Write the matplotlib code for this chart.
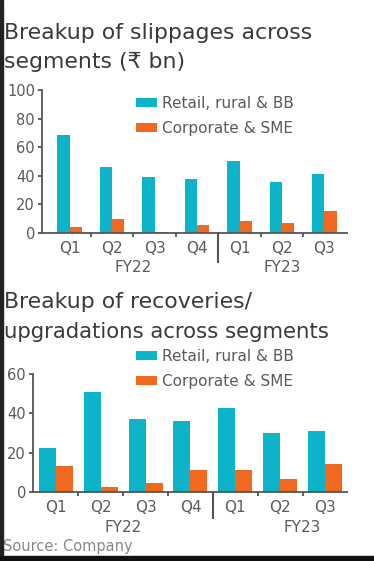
import matplotlib
matplotlib.use('Agg')
import matplotlib.pyplot as plt
import matplotlib.transforms as mtransforms
from matplotlib.patches import Rectangle
import numpy as np

plt.rcParams['font.family'] = ['DejaVu Sans']

quarters_top = ['Q1', 'Q2', 'Q3', 'Q4', 'Q1', 'Q2', 'Q3']
slip_retail = [68.5, 46, 39, 37.5, 50.5, 36, 41.5]
slip_corp = [4, 10, 1, 5.5, 8.5, 7, 15.5]

quarters_bot = ['Q1', 'Q2', 'Q3', 'Q4', 'Q1', 'Q2', 'Q3']
rec_retail = [22.5, 51, 37, 36, 42.5, 30, 31]
rec_corp = [13, 2.5, 4.5, 11, 11, 6.5, 14]

legend_labels = ['Retail, rural & BB', 'Corporate & SME']
CYAN = '#0db4c9'
ORANGE = '#f0691f'
TITLE_C = '#3a3a3a'
TICK_C = '#5a5a5a'

W, H = 374, 561
fig = plt.figure(figsize=(W / 100, H / 100), dpi=100)


def px_axes(x0, x1, y_top, y_bot):
    return fig.add_axes([x0 / W, 1 - y_bot / H, (x1 - x0) / W, (y_bot - y_top) / H])


def draw_panel(ax, labels, retail, corp, width, ylim, yticks, xlim, fy_pos, sep_len, lab_pad, fy_y):
    x = np.arange(len(labels))
    ax.bar(x - width / 2, retail, width, color=CYAN, label=legend_labels[0])
    ax.bar(x + width / 2, corp, width, color=ORANGE, label=legend_labels[1])
    ax.set_xlim(*xlim)
    ax.set_ylim(*ylim)
    ax.set_yticks(yticks)
    for s in ['top', 'right']:
        ax.spines[s].set_visible(False)
    for s in ['left', 'bottom']:
        ax.spines[s].set_color('#555555')
        ax.spines[s].set_linewidth(1.3)
    ax.spines['left'].set_bounds(ylim[0], yticks[-1])
    ax.set_xticks(x)
    ax.set_xticklabels(labels)
    ax.set_xticks([0.5, 1.5, 2.5, 4.5, 5.5], minor=True)
    ax.tick_params(axis='x', which='major', length=0, pad=lab_pad, labelsize=11, labelcolor=TICK_C)
    ax.tick_params(axis='x', which='minor', length=3, width=1.3, color='#555555')
    ax.tick_params(axis='y', length=3, width=1.3, color='#555555', labelsize=10.5, labelcolor=TICK_C, pad=2)
    trans = mtransforms.blended_transform_factory(ax.transData, ax.transAxes)
    ax.plot([3.5, 3.5], [0, -sep_len], transform=trans, color='#555555', lw=1.5, clip_on=False)
    for pos, name in zip(fy_pos, ['FY22', 'FY23']):
        ax.text(pos, fy_y, name, transform=trans, ha='center', va='center',
                fontsize=11, color=TICK_C)


def add_legend(ax, y_px):
    ax.legend(loc='upper left', bbox_to_anchor=(136 / W, 1 - y_px / H), bbox_transform=fig.transFigure,
              frameon=False, fontsize=11, handlelength=1.4, handleheight=0.6, handletextpad=0.3,
              labelspacing=0.65, labelcolor=TICK_C, borderaxespad=0, borderpad=0)


# top panel
ax1 = px_axes(42, 347, 90, 233)
draw_panel(ax1, quarters_top, slip_retail, slip_corp, 0.29, (0, 100), [0, 20, 40, 60, 80, 100],
           (-0.65, 6.53), [1.5, 5], 29 / 143, 6, -34 / 143)
add_legend(ax1, 96)
fig.text(4 / W, 1 - 33 / H, 'Breakup of slippages across', fontsize=15.8, color=TITLE_C,
         va='center', ha='left')
fig.text(4 / W, 1 - 62 / H, 'segments (\u20b9 bn)', fontsize=15.8, color=TITLE_C,
         va='center', ha='left')

# bottom panel
ax2 = px_axes(33, 347, 373, 492)
draw_panel(ax2, quarters_bot, rec_retail, rec_corp, 0.38, (0, 60.5), [0, 20, 40, 60],
           (-0.51, 6.49), [1.5, 5.5], 26 / 119, 6, -36 / 119)
add_legend(ax2, 349)
fig.text(4 / W, 1 - 302 / H, 'Breakup of recoveries/', fontsize=15.8, color=TITLE_C,
         va='center', ha='left')
fig.text(4 / W, 1 - 332 / H, 'upgradations across segments', fontsize=15.3, color=TITLE_C,
         va='center', ha='left')
fig.text(3 / W, 1 - 547 / H, 'Source: Company', fontsize=10.5, color='#888888', va='center', ha='left')

# frame edges from the screenshot
fig.patches.append(Rectangle((0, 0), 2.5 / W, 1, transform=fig.transFigure, color='#222222', zorder=10))
fig.patches.append(Rectangle((0, 0), 1, 5 / H, transform=fig.transFigure, color='#111111', zorder=10))

fig.savefig('out.png', dpi=100)
